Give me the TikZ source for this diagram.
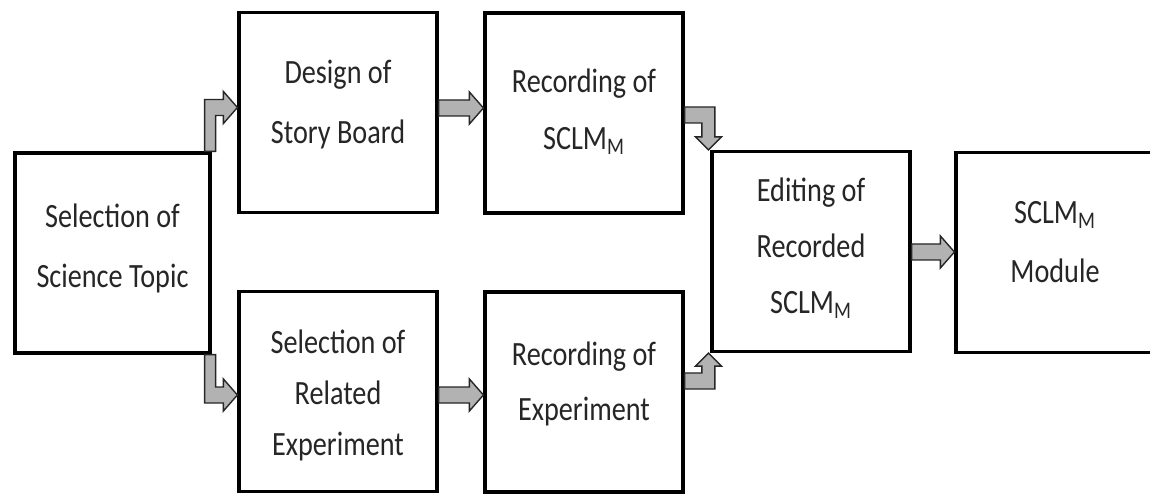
\documentclass[tikz,border=0pt]{standalone}
\usepackage{fontspec}
\setmainfont{Carlito}[FakeStretch=0.83]
\usetikzlibrary{calc}

% invisible struts that lengthen the first line upward or the last line downward
\newcommand\topstrut[1]{\rule{0pt}{#1}}
\newcommand\botstrut[1]{\rule[-#1]{0pt}{0pt}}

\tikzset{
  stage/.style={draw=black, line width=1.6pt, fill=white, align=center,
    inner sep=0pt, minimum width=99pt, minimum height=100pt,
    text=black!85, font=\fontsize{17}{29}\selectfont},
  skip/.style={font=\fontsize{17}{#1}\selectfont},
  blkarrow/.style={draw=black!85, line width=0.7pt, fill=black!30, line join=miter},
}

% right-pointing block arrow from #1 (shaft start) to #2 (tip)
\newcommand\rightblock[2]{%
  \draw[blkarrow] ($(#1)+(0,-8)$) -- ($(#2)+(-14,-8)$) -- ($(#2)+(-14,-16)$)
    -- (#2) -- ($(#2)+(-14,16)$) -- ($(#2)+(-14,8)$) -- ($(#1)+(0,8)$) -- cycle;}

\begin{document}
\begin{tikzpicture}[x=0.5pt, y=-0.5pt]
  \useasboundingbox (0,0) rectangle (1150,496);

  % process stages
  \node[stage, skip=30pt, minimum width=97.5pt] (A) at (112.5,253)
    {Selection of\\Science Topic\botstrut{7.4pt}};
  \node[stage, skip=30pt] (B) at (338,112.5) {Design of\\Story Board\botstrut{10.9pt}};
  \node[stage, skip=28.5pt] (C) at (584,113) {Recording of\\SCLM\textsubscript{M}\botstrut{4pt}};
  \node[stage, skip=25.5pt] (D) at (338,391.5)
    {\topstrut{16pt}Selection of\\Related\\Experiment};
  \node[stage, skip=27.5pt] (E) at (584,392) {Recording of\\Experiment\botstrut{10.9pt}};
  \node[stage, skip=28pt] (F) at (811,251.5) {Editing of\\Recorded\\SCLM\textsubscript{M}\botstrut{6pt}};
  \node[stage, skip=29.5pt] (G) at (1055,252.5) {SCLM\textsubscript{M}\\Module\botstrut{11pt}};

  % straight block arrows
  \coordinate (bc0) at ($(B.east)+(0,-4.5)$);
  \coordinate (bc1) at (C.west |- bc0);
  \rightblock{bc0}{bc1}
  \coordinate (de0) at ($(D.east)+(0,3.5)$);
  \coordinate (de1) at (E.west |- de0);
  \rightblock{de0}{de1}
  \coordinate (fg0) at ($(F.east)+(0,0.5)$);
  \coordinate (fg1) at (G.west |- fg0);
  \rightblock{fg0}{fg1}

  % bent arrow: topic -> story board
  \coordinate (ab0) at ($(A.north east)+(-1.5,0)$);
  \coordinate (ab1) at ($(B.west)+(0,-5)$);
  \coordinate (ab2) at (ab0 |- ab1);
  \draw[blkarrow] ($(ab0)+(-5.5,0)$) -- ($(ab2)+(-5.5,-8)$) -- ($(ab1)+(-14,-8)$)
    -- ($(ab1)+(-14,-16)$) -- (ab1) -- ($(ab1)+(-14,16)$) -- ($(ab1)+(-14,8)$)
    -- ($(ab2)+(5.5,8)$) -- ($(ab0)+(5.5,0)$) -- cycle;

  % bent arrow: topic -> related experiment
  \coordinate (ad0) at ($(A.south east)+(-1.5,0)$);
  \coordinate (ad1) at ($(D.west)+(0,3.5)$);
  \coordinate (ad2) at (ad0 |- ad1);
  \draw[blkarrow] ($(ad0)+(-5.5,0)$) -- ($(ad2)+(-5.5,8)$) -- ($(ad1)+(-14,8)$)
    -- ($(ad1)+(-14,16)$) -- (ad1) -- ($(ad1)+(-14,-16)$) -- ($(ad1)+(-14,-8)$)
    -- ($(ad2)+(5.5,-8)$) -- ($(ad0)+(5.5,0)$) -- cycle;

  % bent arrow: recording of SCLM -> editing
  \coordinate (cf0) at ($(C.east)+(0,2)$);
  \coordinate (cf1) at ($(F.north west)+(-2,0)$);
  \coordinate (cf2) at (cf1 |- cf0);
  \draw[blkarrow] ($(cf0)+(0,-8)$) -- ($(cf2)+(6.5,-8)$) -- ($(cf1)+(6.5,-13)$)
    -- ($(cf1)+(13,-13)$) -- (cf1) -- ($(cf1)+(-13,-13)$) -- ($(cf1)+(-6.5,-13)$)
    -- ($(cf2)+(-6.5,8)$) -- ($(cf0)+(0,8)$) -- cycle;

  % bent arrow: recording of experiment -> editing
  \coordinate (ef0) at ($(E.east)+(0,-11)$);
  \coordinate (ef1) at ($(F.south west)+(-2,0)$);
  \coordinate (ef2) at (ef1 |- ef0);
  \draw[blkarrow] ($(ef0)+(0,8)$) -- ($(ef2)+(6.5,8)$) -- ($(ef1)+(6.5,13)$)
    -- ($(ef1)+(13,13)$) -- (ef1) -- ($(ef1)+(-13,13)$) -- ($(ef1)+(-6.5,13)$)
    -- ($(ef2)+(-6.5,-8)$) -- ($(ef0)+(0,-8)$) -- cycle;
\end{tikzpicture}
\end{document}
